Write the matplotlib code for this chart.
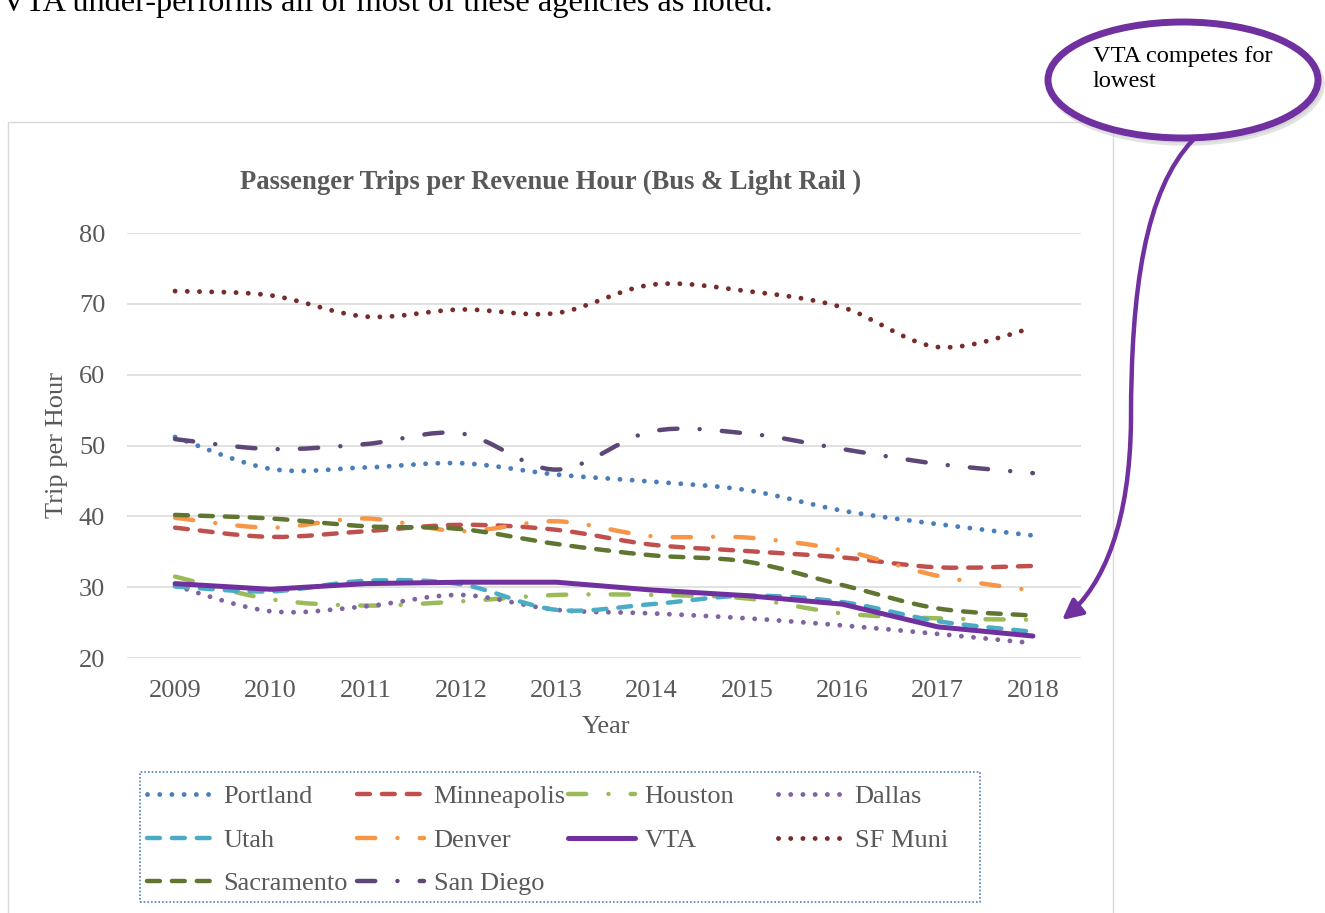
import numpy as np
import matplotlib
matplotlib.use("Agg")
import matplotlib.pyplot as plt
from matplotlib.path import Path
from matplotlib.patches import PathPatch, Ellipse, Rectangle, FancyArrowPatch
from matplotlib.lines import Line2D

# ---------------- data ----------------
years = [2009, 2010, 2011, 2012, 2013, 2014, 2015, 2016, 2017, 2018]
portland    = [51.2, 46.7, 46.9, 47.5, 45.9, 44.9, 43.7, 40.8, 38.9, 37.3]
minneapolis = [38.4, 37.1, 37.9, 38.8, 38.1, 36.0, 35.1, 34.2, 32.8, 33.0]
houston     = [31.5, 28.3, 27.4, 28.0, 28.9, 28.9, 28.4, 26.3, 25.6, 25.4]
dallas      = [30.2, 26.6, 27.3, 28.9, 26.8, 26.3, 25.6, 24.6, 23.4, 22.1]
utah        = [30.1, 29.4, 30.9, 30.4, 26.8, 27.6, 28.8, 27.9, 25.2, 23.7]
denver      = [39.8, 38.4, 39.7, 37.9, 39.3, 37.2, 37.0, 35.2, 31.6, 29.5]
vta         = [30.5, 29.7, 30.5, 30.7, 30.7, 29.6, 28.8, 27.6, 24.4, 23.1]
sf_muni     = [71.8, 71.2, 68.2, 69.2, 68.7, 72.7, 71.8, 69.5, 63.9, 66.6]
sacramento  = [40.2, 39.7, 38.6, 38.2, 36.1, 34.5, 33.6, 30.3, 27.0, 26.0]
san_diego   = [50.9, 49.5, 50.2, 51.7, 46.6, 52.0, 51.7, 49.5, 47.4, 46.1]

series_names = ["Portland", "Minneapolis", "Houston", "Dallas", "Utah",
                "Denver", "VTA", "SF Muni", "Sacramento", "San Diego"]
series_values = [portland, minneapolis, houston, dallas, utah,
                 denver, vta, sf_muni, sacramento, san_diego]

y_ticks = [20, 30, 40, 50, 60, 70, 80]
title_text = "Passenger Trips per Revenue Hour (Bus & Light Rail )"
y_label = "Trip per Hour"
x_label = "Year"
top_text = "VTA under-performs all or most of these agencies as noted."
callout_text = "VTA competes for\nlowest"

# ---------------- styles ----------------
DOT = (0, (0.01, 2.5))
DASH = (0, (2.9, 2.7))
LDD = (0, (4.1, 5.0, 0.01, 5.0))
styles = {
    "Portland":    dict(color="#4A7EBB", ls=DOT,  lw=3.5, smooth=True),
    "Minneapolis": dict(color="#C0504D", ls=DASH, lw=3.2, smooth=True),
    "Houston":     dict(color="#9BBB59", ls=LDD,  lw=3.2, smooth=True),
    "Dallas":      dict(color="#8064A2", ls=DOT,  lw=3.5, smooth=True),
    "Utah":        dict(color="#4BACC6", ls=DASH, lw=3.2, smooth=True),
    "Denver":      dict(color="#F79646", ls=LDD,  lw=3.2, smooth=True),
    "VTA":         dict(color="#7030A0", ls="-",  lw=3.6, smooth=False),
    "SF Muni":     dict(color="#772C2A", ls=DOT,  lw=3.5, smooth=True),
    "Sacramento":  dict(color="#5F7530", ls=DASH, lw=3.2, smooth=True),
    "San Diego":   dict(color="#5C4776", ls=LDD,  lw=3.2, smooth=True),
}

SERIF = "Liberation Serif"
GRAY = "#595959"
FS = 19

W, H = 1325, 913
fig = plt.figure(figsize=(W / 100, H / 100), dpi=100)
fig.patch.set_facecolor("white")


def fx(px):
    return px / W


def fy(py):
    return 1 - py / H


def smooth_path(xs, ys):
    pts = np.column_stack([xs, ys]).astype(float)
    n = len(pts)
    verts = [pts[0]]
    codes = [Path.MOVETO]
    for i in range(n - 1):
        p0 = pts[i - 1] if i > 0 else pts[i]
        p1 = pts[i]
        p2 = pts[i + 1]
        p3 = pts[i + 2] if i + 2 < n else pts[i + 1]
        c1 = p1 + (p2 - p0) / 6.0
        c2 = p2 - (p3 - p1) / 6.0
        verts += [c1, c2, p2]
        codes += [Path.CURVE4] * 3
    return Path(verts, codes)


# chart area border
fig.add_artist(Rectangle((fx(8), fy(930)), fx(1113 - 8), (930 - 122) / H,
                         transform=fig.transFigure, fill=False,
                         edgecolor="#d9d9d9", lw=1.0, zorder=0.5))

ax = fig.add_axes([fx(127.4), fy(658), (1080.6 - 127.4) / W, 425 / H])
ax.patch.set_alpha(0)
ax.set_xlim(2008.5, 2018.5)
ax.set_ylim(20, 80)
ax.set_yticks(y_ticks)
ax.set_xticks(years)
ax.set_xticklabels([str(y) for y in years])
for s in ax.spines.values():
    s.set_visible(False)
ax.yaxis.grid(True, color="#d9d9d9", lw=1.1, zorder=0)
ax.set_axisbelow(True)
ax.tick_params(axis="both", length=0, labelsize=FS, labelcolor=GRAY)
ax.tick_params(axis="y", pad=16)
ax.tick_params(axis="x", pad=15.5)
for lab in ax.get_xticklabels() + ax.get_yticklabels():
    lab.set_fontfamily(SERIF)

handles = []
for z, (name, vals) in enumerate(zip(series_names, series_values)):
    st = styles[name]
    if st["smooth"]:
        patch = PathPatch(smooth_path(years, vals), fill=False,
                          edgecolor=st["color"], lw=st["lw"], linestyle=st["ls"],
                          capstyle="round", joinstyle="round", zorder=2 + z * 0.1)
        ax.add_patch(patch)
    else:
        ax.plot(years, vals, color=st["color"], lw=st["lw"], linestyle=st["ls"],
                solid_capstyle="round", solid_joinstyle="round", zorder=2 + z * 0.1)
    handles.append(Line2D([0], [0], color=st["color"], lw=st["lw"],
                          linestyle=st["ls"], dash_capstyle="round",
                          solid_capstyle="round"))

# titles
fig.text(fx(551), fy(182), title_text, ha="center", va="center",
         fontsize=19.2, fontweight="bold", family=SERIF, color=GRAY)
fig.text(fx(57), fy(445), y_label, ha="center", va="center", rotation=90,
         fontsize=FS, family=SERIF, color=GRAY)
fig.text(fx(606), fy(727), x_label, ha="center", va="center",
         fontsize=FS, family=SERIF, color=GRAY)

# legend (four columns)
col_x = [147, 357, 568, 778]
for c in range(4):
    idx = [i for i in (c, c + 4, c + 8) if i < len(series_names)]
    leg = fig.legend([handles[i] for i in idx], [series_names[i] for i in idx],
                     loc="upper left", bbox_to_anchor=(fx(col_x[c]), fy(785)),
                     bbox_transform=fig.transFigure, frameon=False,
                     borderpad=0, borderaxespad=0, handlelength=2.55,
                     handletextpad=0.35, labelspacing=0.75,
                     prop={"family": SERIF, "size": FS})
    for t in leg.get_texts():
        t.set_color(GRAY)
fig.add_artist(Rectangle((fx(140), fy(902)), fx(980 - 140), (902 - 772) / H,
                         transform=fig.transFigure, fill=False,
                         edgecolor="#4F81BD", lw=1.2, linestyle=(0, (1, 1.2)),
                         zorder=3))

# top text
fig.text(fx(2), fy(11.5), top_text, ha="left", va="baseline",
         fontsize=23.3, family=SERIF, color="black")

# callout
fig.add_artist(Ellipse((fx(1186), fy(84)), fx(272), 118 / H,
                       transform=fig.transFigure, facecolor="#c8c8c8",
                       edgecolor="#c8c8c8", lw=4, alpha=0.5, zorder=4))
fig.add_artist(Ellipse((fx(1183), fy(80)), fx(270), 116 / H,
                       transform=fig.transFigure, facecolor="white",
                       edgecolor="#7030A0", lw=5, zorder=5))
fig.text(fx(1093), fy(46), callout_text, ha="left", va="top",
         fontsize=17.6, family=SERIF, color="black", linespacing=1.22, zorder=6)

arrow_pts = [(1193, 140), (1145, 190), (1131, 290), (1131, 420),
             (1130, 520), (1105, 585), (1062, 620)]
arrow_path = Path([(fx(x), fy(y)) for x, y in arrow_pts],
                  [Path.MOVETO] + [Path.CURVE4] * 6)
fig.add_artist(FancyArrowPatch(path=arrow_path, transform=fig.transFigure,
                               arrowstyle="-|>,head_length=12,head_width=6",
                               color="#7030A0", lw=3.2, zorder=6))

fig.savefig("out.png", dpi=100)
